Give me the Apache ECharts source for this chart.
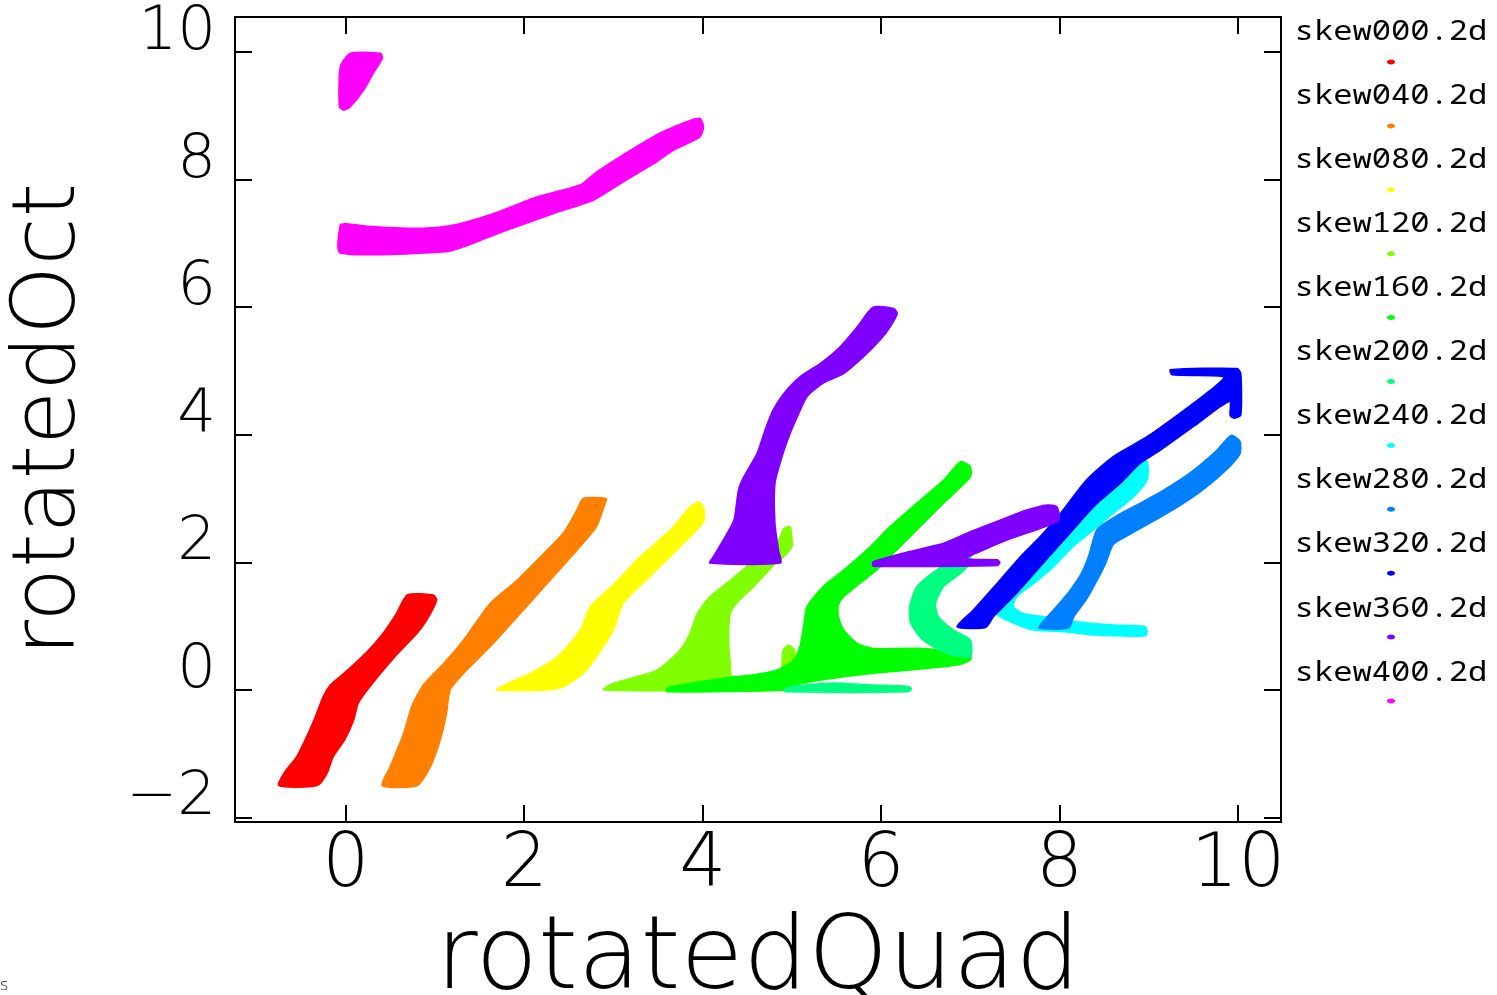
<!DOCTYPE html>
<html>
<head>
<meta charset="utf-8">
<title>rotatedQuad vs rotatedOct</title>
<script src="https://cdn.jsdelivr.net/npm/echarts@6/dist/echarts.min.js"></script>
<style>
  html, body { margin: 0; padding: 0; background: #fff; }
  #chart { width: 1497px; height: 995px; }
</style>
</head>
<body>
<div id="chart"></div>
<script>
// Series names, in drawing order
const seriesNames = ['skew000.2d', 'skew040.2d', 'skew080.2d', 'skew120.2d', 'skew160.2d',
  'skew200.2d', 'skew240.2d', 'skew280.2d', 'skew320.2d', 'skew360.2d', 'skew400.2d'];

// Tick values on both axes
const xTicks = [0, 2, 4, 6, 8, 10];
const yTicks = [-2, 0, 2, 4, 6, 8, 10];

// Regions covered by each series, as outlines in (rotatedQuad, rotatedOct)
const skew000 = [
  [[-0.75,-1.5],[-0.68,-1.28],[-0.55,-1.05],[-0.42,-0.68],[-0.34,-0.42],[-0.25,-0.10],[-0.17,0.08],
   [-0.02,0.26],[0.24,0.60],[0.42,0.89],[0.57,1.20],[0.69,1.49],[0.98,1.49],[1.02,1.41],[0.91,1.10],
   [0.80,0.89],[0.57,0.55],[0.27,0.05],[0.14,-0.21],[0.09,-0.47],[-0.01,-0.78],[-0.14,-1.05],
   [-0.21,-1.31],[-0.32,-1.5]]
];
const skew040 = [
  [[0.41,-1.5],[0.50,-1.20],[0.65,-0.68],[0.74,-0.26],[0.87,0.08],[1.10,0.42],[1.32,0.78],[1.62,1.36],
   [1.92,1.72],[2.22,2.14],[2.44,2.46],[2.59,2.82],[2.66,3.0],[2.92,3.0],[2.90,2.9],[2.81,2.56],
   [2.59,2.19],[2.29,1.72],[1.99,1.25],[1.62,0.68],[1.32,0.26],[1.17,0.0],[1.13,-0.37],[1.06,-0.78],
   [0.95,-1.20],[0.80,-1.5]]
];
const skew080 = [
  [[1.69,0.0],[1.81,0.10],[2.07,0.26],[2.37,0.52],[2.63,0.94],[2.74,1.31],[2.98,1.62],[3.30,2.09],
   [3.64,2.51],[3.86,2.87],[3.95,2.95],[4.01,2.87],[4.01,2.64],[3.75,2.25],[3.41,1.78],[3.11,1.36],
   [3.00,0.94],[2.81,0.52],[2.66,0.26],[2.44,0.05],[2.27,0.0]]
];
const skew120 = [
  [[2.89,0.0],[2.96,0.08],[3.19,0.18],[3.49,0.31],[3.75,0.63],[3.86,0.89],[3.94,1.20],[4.08,1.46],
   [4.31,1.72],[4.49,1.93],[4.60,2.05],[4.85,2.35],[4.91,2.53],[4.98,2.56],[5.0,2.40],[5.0,2.25],
   [4.91,2.09],[4.80,1.97],[4.78,1.93],[4.57,1.62],[4.38,1.36],[4.31,1.20],[4.29,0.78],[4.31,0.42],
   [4.33,0.20],[4.8,0.15],[5.0,0.1],[5.0,0.0]],
  [[4.90,0.2],[4.90,0.62],[4.96,0.70],[5.03,0.63],[5.03,0.2]]
];
const skew160 = [
  [[6.89,3.58],[7.0,3.5],[7.0,3.34],[6.70,2.93],[6.32,2.40],[6.10,2.09],[5.95,1.88],[5.76,1.67],
   [5.58,1.46],[5.52,1.33],[5.52,1.15],[5.58,0.94],[5.73,0.73],[5.91,0.65],[6.47,0.65],[7.0,0.55],
   [7.0,0.47],[6.85,0.39],[6.29,0.31],[5.91,0.26],[5.35,0.16],[5.0,0.07],[4.9,0.0],[3.6,-0.03],
   [3.6,0.03],[3.67,0.06],[4.31,0.20],[4.53,0.23],[4.83,0.31],[5.02,0.47],[5.09,0.68],[5.13,0.99],
   [5.17,1.31],[5.35,1.62],[5.58,1.88],[5.88,2.25],[6.10,2.56],[6.40,2.93],[6.70,3.29]]
];
const skew200 = [
  [[6.92,2.12],[7.0,2.1],[7.0,1.99],[6.89,1.83],[6.70,1.62],[6.61,1.36],[6.64,1.15],[6.81,0.94],
   [7.0,0.78],[7.0,0.52],[6.74,0.57],[6.47,0.78],[6.33,1.05],[6.32,1.31],[6.40,1.62],[6.62,1.88],
   [6.85,2.07]],
  [[4.91,0.0],[4.98,0.05],[5.47,0.11],[5.84,0.08],[6.29,0.06],[6.34,0.02],[6.30,-0.03],[4.93,-0.03]]
];
const skew240 = [
  [[8.98,3.58],[8.98,3.29],[8.83,3.03],[8.60,2.77],[8.38,2.51],[8.15,2.25],[7.93,1.93],[7.71,1.67],
   [7.52,1.46],[7.48,1.31],[7.59,1.20],[7.82,1.15],[8.19,1.07],[8.60,1.02],[8.95,1.0],[8.98,0.94],
   [8.96,0.85],[8.38,0.86],[8.08,0.91],[7.71,0.94],[7.48,1.05],[7.30,1.18],[7.28,1.31],[7.45,1.52],
   [7.65,1.85],[7.95,2.35],[8.25,2.85],[8.55,3.25],[8.85,3.60]]
];
const skew280 = [
  [[9.92,3.99],[9.75,3.74],[9.45,3.39],[9.15,3.12],[8.93,2.95],[8.65,2.74],[8.42,2.52],[8.33,2.12],
   [8.24,1.82],[8.11,1.55],[7.96,1.30],[7.80,1.05],[7.77,0.97],[8.10,0.97],[8.16,1.15],[8.30,1.42],
   [8.42,1.72],[8.52,2.0],[8.60,2.28],[8.76,2.42],[9.04,2.64],[9.28,2.83],[9.57,3.10],[9.86,3.44],
   [10.02,3.70],[10.02,3.90]]
];
const skew320 = [
  [[6.85,0.99],[7.03,1.25],[7.33,1.72],[7.56,2.09],[7.78,2.40],[8.01,2.77],[8.30,3.29],[8.60,3.66],
   [8.98,3.97],[9.35,4.34],[9.69,4.70],[9.84,4.91],[9.26,4.94],[9.24,5.02],[9.99,5.04],[10.03,4.96],
   [10.03,4.31],[9.96,4.26],[9.91,4.30],[9.91,4.52],[9.80,4.44],[9.50,4.13],[9.13,3.76],[8.90,3.55],
   [8.68,3.24],[8.38,2.87],[8.08,2.40],[7.78,1.93],[7.48,1.46],[7.26,1.15],[7.17,0.98]]
];
const skew360 = [
  [[4.08,1.99],[4.87,1.99],[4.85,2.19],[4.81,2.61],[4.81,3.24],[4.89,3.66],[4.98,4.02],[5.06,4.28],
   [5.17,4.60],[5.35,4.81],[5.58,4.96],[5.80,5.22],[5.99,5.49],[6.10,5.69],[6.18,5.90],[6.14,5.98],
   [5.91,6.0],[5.73,5.69],[5.54,5.38],[5.32,5.12],[5.09,4.91],[4.91,4.65],[4.79,4.39],[4.70,4.08],
   [4.61,3.71],[4.46,3.34],[4.40,3.13],[4.35,2.66],[4.23,2.35],[4.12,2.09]],
  [[5.91,2.01],[6.32,2.17],[6.70,2.30],[7.0,2.48],[7.33,2.66],[7.63,2.82],[7.86,2.90],[7.97,2.87],
   [7.99,2.66],[7.78,2.53],[7.41,2.35],[7.14,2.19],[6.95,2.06],[7.30,2.04],[7.33,2.0],[7.30,1.95],
   [5.91,1.94]]
];
const skew400 = [
  [[-0.06,9.77],[0.05,9.98],[0.39,9.98],[0.41,9.90],[0.31,9.67],[0.20,9.40],[0.05,9.14],
   [-0.02,9.09],[-0.07,9.14]],
  [[-0.06,7.29],[0.01,7.31],[0.24,7.27],[0.69,7.24],[1.02,7.25],[1.28,7.31],[1.66,7.47],[2.14,7.73],
   [2.63,7.92],[2.81,8.12],[3.19,8.46],[3.52,8.73],[3.86,8.93],[3.97,8.96],[4.01,8.83],[3.97,8.67],
   [3.67,8.46],[3.45,8.25],[3.08,7.94],[2.78,7.68],[2.33,7.47],[1.81,7.21],[1.33,6.95],[1.13,6.87],
   [-0.06,6.85]]
];

const seriesShapes = [skew000, skew040, skew080, skew120, skew160, skew200,
  skew240, skew280, skew320, skew360, skew400];

// Hue wheel from red to magenta
const palette = ['#ff0000', '#ff8000', '#ffff00', '#80ff00', '#00ff00', '#00ff80',
  '#00ffff', '#0080ff', '#0000ff', '#8000ff', '#ff00ff'];

const thinFont = 'DejaVu Sans';
const chart = echarts.init(document.getElementById('chart'), null, { renderer: 'canvas' });

function polygonSeries(name, shapes, color) {
  return {
    type: 'custom',
    name: name,
    xAxisIndex: 0,
    yAxisIndex: 0,
    clip: true,
    data: shapes.map(s => s[0]),
    renderItem: function (params, api) {
      const pts = shapes[params.dataIndex].map(p => api.coord(p));
      return {
        type: 'polygon',
        shape: { points: pts, smooth: 0.22 },
        style: { fill: color, stroke: color, lineWidth: 1.5, lineJoin: 'round' }
      };
    }
  };
}

const frameLine = { show: true, onZero: false, lineStyle: { color: '#000', width: 2 } };
const tickStyle = { color: '#000', width: 2 };

// Key on the right: name with a small coloured dot underneath
const keyItems = [];
seriesNames.forEach((n, i) => {
  keyItems.push({
    type: 'text',
    x: 1391, y: 32 + 64.1 * i,
    scaleX: 1.19,
    style: {
      text: n, font: '400 27px "Noto Sans Mono", "DejaVu Sans Mono", monospace',
      fill: '#000', align: 'center', verticalAlign: 'middle',
      textAlign: 'center', textVerticalAlign: 'middle'
    }
  });
  keyItems.push({
    type: 'ellipse',
    shape: { cx: 1391, cy: 62 + 63.9 * i, rx: 4, ry: 2.5 },
    style: { fill: palette[i] }
  });
});
keyItems.push({
  type: 'text', x: 0, y: 986,
  style: { text: 's', font: '200 16px "DejaVu Sans"', fill: '#000',
    verticalAlign: 'middle', textVerticalAlign: 'middle' }
});

const option = {
  animation: false,
  backgroundColor: '#ffffff',
  grid: {
    left: 235, right: 216, top: 17, bottom: 173,
    containLabel: false, outerBoundsMode: 'none'
  },
  xAxis: [
    {
      type: 'value', position: 'bottom', min: -1.24, max: 10.48,
      axisLine: frameLine,
      axisTick: { show: true, inside: true, length: 17, customValues: xTicks, lineStyle: tickStyle },
      axisLabel: {
        show: true, customValues: xTicks, margin: 8,
        fontFamily: thinFont, fontWeight: 200, fontSize: 74, color: '#000'
      },
      splitLine: { show: false },
      name: 'rotatedQuad', nameLocation: 'middle', nameGap: 88,
      nameTextStyle: { fontFamily: thinFont, fontWeight: 200, fontSize: 102, color: '#000' }
    },
    {
      type: 'value', position: 'top', min: -1.24, max: 10.48,
      axisLine: frameLine,
      axisTick: { show: true, inside: true, length: 17, customValues: xTicks, lineStyle: tickStyle },
      axisLabel: { show: false },
      splitLine: { show: false }
    }
  ],
  yAxis: [
    {
      type: 'value', position: 'left', min: -2.07, max: 10.55,
      axisLine: frameLine,
      axisTick: { show: true, inside: true, length: 17, customValues: yTicks, lineStyle: tickStyle },
      axisLabel: {
        show: true, customValues: yTicks, margin: 19,
        verticalAlign: 'bottom', lineHeight: 38,
        fontFamily: thinFont, fontWeight: 200, fontSize: 61, color: '#000',
        formatter: v => String(v).replace('-', '\u2212')
      },
      splitLine: { show: false },
      name: 'rotatedOct', nameLocation: 'middle', nameGap: 140,
      nameTextStyle: { fontFamily: thinFont, fontWeight: 200, fontSize: 88, color: '#000' }
    },
    {
      type: 'value', position: 'right', min: -2.07, max: 10.55,
      axisLine: frameLine,
      axisTick: { show: true, inside: true, length: 17, customValues: yTicks, lineStyle: tickStyle },
      axisLabel: { show: false },
      splitLine: { show: false }
    }
  ],
  graphic: { elements: keyItems },
  series: seriesNames.map((n, i) => polygonSeries(n, seriesShapes[i], palette[i]))
};

chart.setOption(option);
</script>
</body>
</html>
